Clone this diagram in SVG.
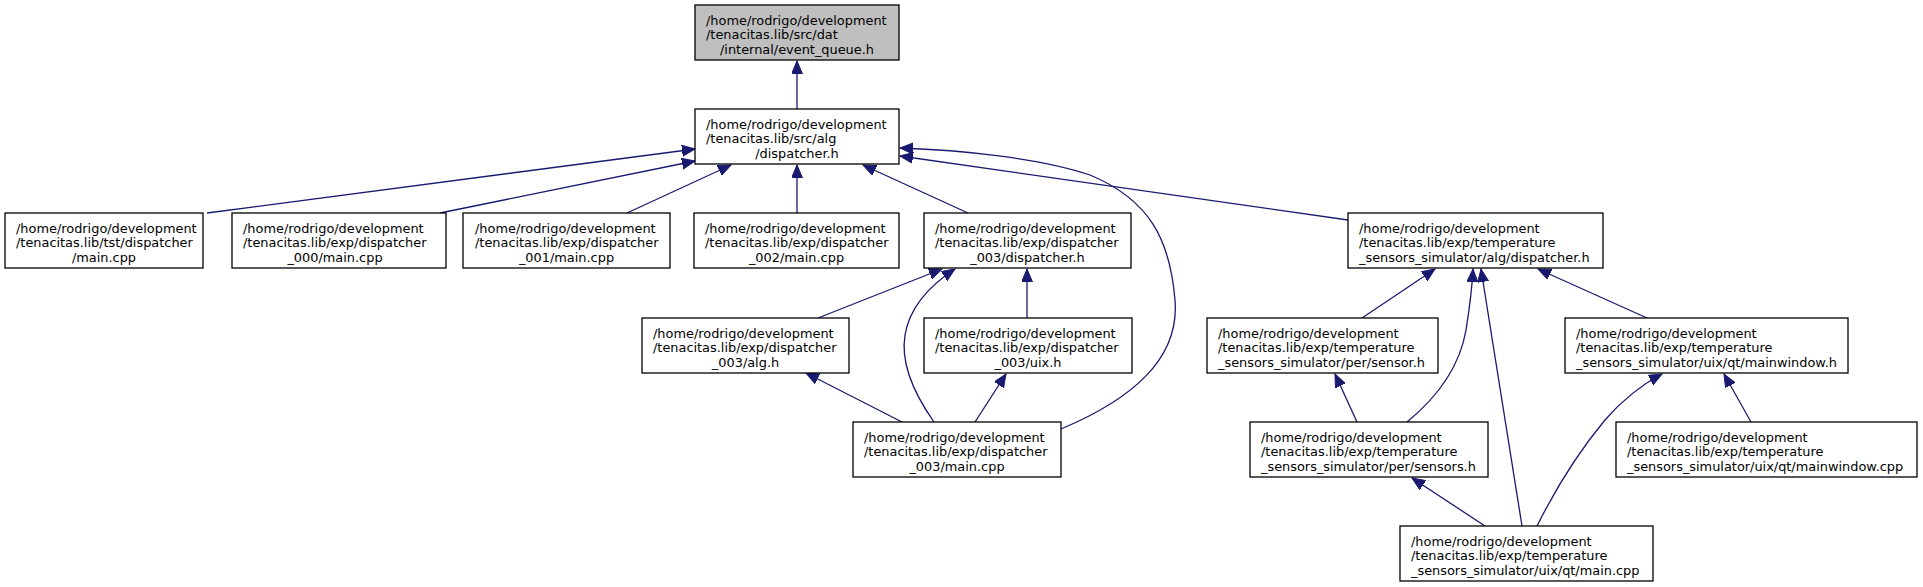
<svg xmlns="http://www.w3.org/2000/svg" width="1923" height="587" viewBox="0 0 1923 587">
<style>
rect{fill:#fff;stroke:#000;stroke-width:1.3}
#n0 rect{fill:#bfbfbf}
text{font-family:"DejaVu Sans","Liberation Sans",sans-serif;font-size:12.9px;fill:#000}
.m{text-anchor:middle}
#edges path{fill:none;stroke:#191970;stroke-width:1.3;marker-end:url(#ah)}
</style>
<defs>
<marker id="ah" markerUnits="userSpaceOnUse" markerWidth="15" markerHeight="13" refX="13" refY="5.5" orient="auto">
<path d="M0,0 L13,5.5 L0,11 z" fill="#191970" stroke="#191970" stroke-width="1"/>
</marker>
</defs>
<g id="edges">
<path d="M797,109 L797,61"/>
<path d="M207,213 L695,149"/>
<path d="M440,213 L695,161"/>
<path d="M627,213 L731,165"/>
<path d="M797,213 L797,165"/>
<path d="M968,213 L863,165"/>
<path d="M1061,429 C1130,400 1180,360 1175,300 C1170,240 1150,200 1090,175 C1040,158 960,150 900,148"/>
<path d="M1348,220 L900,156"/>
<path d="M818,318 L942,269"/>
<path d="M934,422 C915,395 900,365 905,335 C910,305 932,284 955,269"/>
<path d="M1027,318 L1027,269"/>
<path d="M902,422 L806,373"/>
<path d="M975,422 L1006,374"/>
<path d="M1362,318 L1435,269"/>
<path d="M1407,422 C1440,395 1460,365 1466,330 C1470,305 1472,290 1473,269"/>
<path d="M1522,526 L1481,269"/>
<path d="M1647,318 L1538,269"/>
<path d="M1357,422 L1335,374"/>
<path d="M1485,526 L1412,478"/>
<path d="M1537,526 C1555,490 1580,450 1605,420 C1625,397 1645,383 1662,374"/>
<path d="M1751,422 L1724,374"/>
</g>
<g id="n0"><rect x="695" y="5" width="204" height="55"/><text x="706" y="24.5">/home/rodrigo/development</text><text x="706" y="39">/tenacitas.lib/src/dat</text><text class="m" x="797" y="53.5">/internal/event_queue.h</text></g>
<g id="n1"><rect x="695" y="109" width="204" height="55"/><text x="706" y="128.5">/home/rodrigo/development</text><text x="706" y="143">/tenacitas.lib/src/alg</text><text class="m" x="797" y="157.5">/dispatcher.h</text></g>
<g id="n2"><rect x="5" y="213" width="198" height="55"/><text x="16" y="232.5">/home/rodrigo/development</text><text x="16" y="247">/tenacitas.lib/tst/dispatcher</text><text class="m" x="104" y="261.5">/main.cpp</text></g>
<g id="n3"><rect x="232" y="213" width="214" height="55"/><text x="243" y="232.5">/home/rodrigo/development</text><text x="243" y="247">/tenacitas.lib/exp/dispatcher</text><text class="m" x="335" y="261.5">_000/main.cpp</text></g>
<g id="n4"><rect x="463" y="213" width="207" height="55"/><text x="475" y="232.5">/home/rodrigo/development</text><text x="475" y="247">/tenacitas.lib/exp/dispatcher</text><text class="m" x="566.5" y="261.5">_001/main.cpp</text></g>
<g id="n5"><rect x="694" y="213" width="205" height="55"/><text x="705" y="232.5">/home/rodrigo/development</text><text x="705" y="247">/tenacitas.lib/exp/dispatcher</text><text class="m" x="796.5" y="261.5">_002/main.cpp</text></g>
<g id="n6"><rect x="924" y="213" width="207" height="55"/><text x="935" y="232.5">/home/rodrigo/development</text><text x="935" y="247">/tenacitas.lib/exp/dispatcher</text><text class="m" x="1027.5" y="261.5">_003/dispatcher.h</text></g>
<g id="n7"><rect x="1348" y="213" width="255" height="55"/><text x="1359" y="232.5">/home/rodrigo/development</text><text x="1359" y="247">/tenacitas.lib/exp/temperature</text><text x="1359" y="261.5">_sensors_simulator/alg/dispatcher.h</text></g>
<g id="n8"><rect x="642" y="318" width="207" height="55"/><text x="653" y="337.5">/home/rodrigo/development</text><text x="653" y="352">/tenacitas.lib/exp/dispatcher</text><text class="m" x="745.5" y="366.5">_003/alg.h</text></g>
<g id="n9"><rect x="924" y="318" width="208" height="55"/><text x="935" y="337.5">/home/rodrigo/development</text><text x="935" y="352">/tenacitas.lib/exp/dispatcher</text><text class="m" x="1028" y="366.5">_003/uix.h</text></g>
<g id="n10"><rect x="1207" y="318" width="231" height="55"/><text x="1218" y="337.5">/home/rodrigo/development</text><text x="1218" y="352">/tenacitas.lib/exp/temperature</text><text x="1218" y="366.5">_sensors_simulator/per/sensor.h</text></g>
<g id="n11"><rect x="1565" y="318" width="283" height="55"/><text x="1576" y="337.5">/home/rodrigo/development</text><text x="1576" y="352">/tenacitas.lib/exp/temperature</text><text x="1576" y="366.5">_sensors_simulator/uix/qt/mainwindow.h</text></g>
<g id="n12"><rect x="853" y="422" width="208" height="55"/><text x="864" y="441.5">/home/rodrigo/development</text><text x="864" y="456">/tenacitas.lib/exp/dispatcher</text><text class="m" x="957" y="470.5">_003/main.cpp</text></g>
<g id="n13"><rect x="1250" y="422" width="238" height="55"/><text x="1261" y="441.5">/home/rodrigo/development</text><text x="1261" y="456">/tenacitas.lib/exp/temperature</text><text x="1261" y="470.5">_sensors_simulator/per/sensors.h</text></g>
<g id="n14"><rect x="1616" y="422" width="301" height="55"/><text x="1627" y="441.5">/home/rodrigo/development</text><text x="1627" y="456">/tenacitas.lib/exp/temperature</text><text x="1627" y="470.5">_sensors_simulator/uix/qt/mainwindow.cpp</text></g>
<g id="n15"><rect x="1400" y="526" width="253" height="55"/><text x="1411" y="545.5">/home/rodrigo/development</text><text x="1411" y="560">/tenacitas.lib/exp/temperature</text><text x="1411" y="574.5">_sensors_simulator/uix/qt/main.cpp</text></g>
</svg>
